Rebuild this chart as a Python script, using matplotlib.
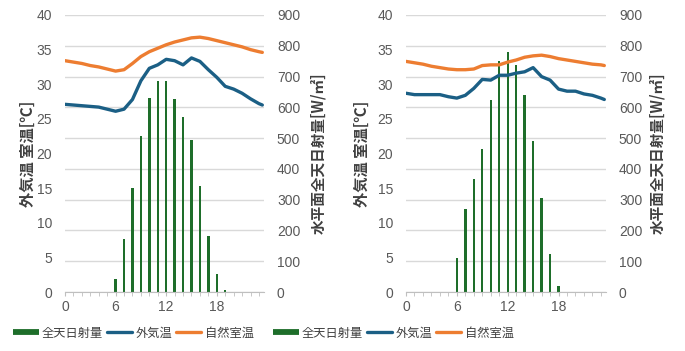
import numpy as np
import matplotlib
matplotlib.use("Agg")
import matplotlib.pyplot as plt
from matplotlib.lines import Line2D
from matplotlib.ticker import MultipleLocator

plt.rcParams['font.family'] = ['Noto Sans CJK JP', 'DejaVu Sans']

# Hourly solar radiation (bars) and temperatures (lines)
bar_hours = [6, 7, 8, 9, 10, 11, 12, 13, 14, 15, 16, 17, 18, 19]
rad_a = [41, 171, 339, 506, 631, 687, 684, 628, 570, 493, 346, 181, 60, 8]
rad_b = [109, 270, 367, 463, 625, 752, 781, 736, 640, 490, 305, 122, 19, 0]

line_hours = [0, 1, 2, 3, 4, 5, 6, 7, 8, 9, 10, 11, 12, 13, 14, 15, 16, 17,
              18, 19, 20, 21, 22, 23, 23.4]
outdoor_a = [27.1, 27.0, 26.9, 26.8, 26.7, 26.4, 26.1, 26.4, 27.8, 30.5, 32.3,
             32.8, 33.6, 33.4, 32.8, 33.8, 33.3, 32.1, 31.0, 29.7, 29.3, 28.7,
             27.9, 27.2, 27.0]
room_a = [33.4, 33.2, 33.0, 32.7, 32.5, 32.2, 31.9, 32.1, 33.0, 34.0, 34.7,
          35.2, 35.7, 36.1, 36.4, 36.7, 36.8, 36.6, 36.3, 36.0, 35.7, 35.4,
          35.0, 34.7, 34.6]
outdoor_b = [28.7, 28.5, 28.5, 28.5, 28.5, 28.2, 28.0, 28.4, 29.4, 30.7, 30.6,
             31.3, 31.3, 31.6, 31.8, 32.4, 31.1, 30.6, 29.3, 29.0, 29.0, 28.6,
             28.4, 28.0, 27.8]
room_b = [33.3, 33.1, 32.9, 32.6, 32.4, 32.2, 32.1, 32.1, 32.2, 32.7, 32.8,
          32.8, 33.2, 33.5, 33.9, 34.1, 34.2, 34.0, 33.7, 33.5, 33.3, 33.1,
          32.9, 32.8, 32.7]

GREEN = '#1e6e2a'
BLUE = '#1b5f85'
ORANGE = '#ed7d31'
GRID = '#d9d9d9'
TXT = '#595959'
LABEL = '#404040'

fig = plt.figure(figsize=(6.85, 3.51), dpi=100)
W, H = 685, 351
TOP, BOTTOM = 15, 292


def panel(x0, x1, rad, outdoor, room, ylab_left_x, ylab_right_x, legend_x):
    ax = fig.add_axes([x0 / W, 1 - BOTTOM / H, (x1 - x0) / W, (BOTTOM - TOP) / H])
    ax2 = ax.twinx()
    ax.set_zorder(ax2.get_zorder() + 1)
    ax.patch.set_visible(False)

    ax.set_ylim(0, 40)
    ax2.set_ylim(0, 900)
    ax.set_xlim(0, 23.6)
    ax.yaxis.set_major_locator(MultipleLocator(5))
    ax2.yaxis.set_major_locator(MultipleLocator(100))
    ax.xaxis.set_major_locator(MultipleLocator(6))
    ax.xaxis.set_minor_locator(MultipleLocator(1))

    for a in (ax, ax2):
        for s in ('top', 'left', 'right', 'bottom'):
            a.spines[s].set_visible(False)
    ax.spines['bottom'].set_visible(True)
    ax.spines['bottom'].set_color('#bfbfbf')

    ax2.grid(axis='y', color=GRID, lw=1)
    ax2.set_axisbelow(True)

    ax2.bar(bar_hours, rad, width=0.28, color=GREEN, zorder=2)
    l1, = ax.plot(line_hours, outdoor, color=BLUE, lw=2.4, solid_capstyle='round')
    l2, = ax.plot(line_hours, room, color=ORANGE, lw=2.4, solid_capstyle='round')

    ax.tick_params(axis='y', length=0, labelsize=10, labelcolor=TXT, pad=9.3)
    ax2.tick_params(axis='y', length=0, labelsize=10, labelcolor=TXT, pad=9.3)
    ax.tick_params(axis='x', which='both', length=3, color='#bfbfbf',
                   labelsize=10, labelcolor=TXT, pad=3)
    for lab in ax.get_yticklabels() + ax2.get_yticklabels() + ax.get_xticklabels():
        lab.set_fontfamily(['Liberation Sans', 'DejaVu Sans'])

    ax.set_ylabel('外気温 室温[℃]', fontsize=11, fontweight='bold', color=LABEL)
    ax2.set_ylabel('水平面全天日射量[W/㎡]', fontsize=10.5, fontweight='bold',
                   color=LABEL, rotation=90)
    ax.yaxis.set_label_coords((ylab_left_x - x0) / (x1 - x0), 0.5)
    ax2.yaxis.set_label_coords((ylab_right_x - x0) / (x1 - x0), 0.5)
    ax.yaxis.label.set_va('center')
    ax2.yaxis.label.set_va('center')

    bar_handle = Line2D([], [], color=GREEN, lw=4.2, solid_capstyle='butt')
    fig.legend([bar_handle, l1, l2], ['全天日射量', '外気温', '自然室温'],
               loc='center left', bbox_to_anchor=(legend_x / W, 1 - 333 / H),
               ncol=3, frameon=False, fontsize=8.8, handlelength=2.1,
               handletextpad=0.25, columnspacing=0.3, labelcolor=LABEL,
               borderaxespad=0, borderpad=0)
    return ax


panel(65, 264, rad_a, outdoor_a, room_a, 28, 318, 13)
panel(406, 606, rad_b, outdoor_b, room_b, 362, 657, 273)

fig.savefig('out.png', dpi=100)
